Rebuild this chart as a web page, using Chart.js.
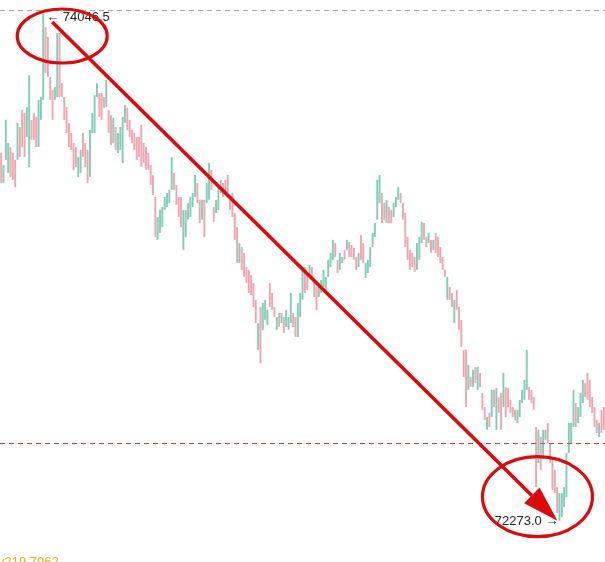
<!DOCTYPE html>
<html>
<head>
<meta charset="utf-8">
<script src="https://cdn.jsdelivr.net/npm/chart.js@4/dist/chart.umd.min.js"></script>
<style>
    html, body { margin: 0; padding: 0; background: #ffffff; }
    #wrap { position: relative; width: 605px; height: 562px; overflow: hidden; }
</style>
</head>
<body>
<div id="wrap"><canvas id="chart"></canvas></div>
<script>
// Candle opens / closes left to right
const opens = [
    73560, 73455, 73536, 73490, 73581, 73560, 73536, 73536, 73651, 73711, 73700, 73616, 73511, 73676, 73700, 73686, 73581, 73676, 73746, 74001, 73966, 73826,
    73781, 73746, 73756, 73980, 73805, 73756, 73721, 73665, 73630, 73595, 73581, 73476, 73490, 73630, 73595, 73571, 73476, 73630, 73630, 73756, 73770, 73770,
    73756, 73721, 73711, 73693, 73595, 73651, 73560, 73571, 73525, 73665, 73718, 73676, 73641, 73630, 73616, 73616, 73658, 73595, 73581, 73560, 73518, 73483,
    73406, 73256, 73280, 73301, 73361, 73371, 73385, 73431, 73490, 73448, 73406, 73406, 73221, 73266, 73326, 73336, 73371, 73406, 73455, 73396, 73326,
    73396, 73385, 73396, 73501, 73371, 73350, 73361, 73420, 73455, 73466, 73483, 73396, 73420, 73350, 73301, 73175, 73231, 73210, 73161, 73151, 73133, 73105,
    73046, 72871, 73021, 72941, 72976, 72958, 73105, 73070, 73021, 72941, 73000, 72965, 72986, 72951, 72941, 72965, 73000, 72986, 72916, 72986, 73046,
    73161, 73140, 73126, 73161, 73116, 73091, 73056, 73070, 73091, 73081, 73126, 73161, 73186, 73245, 73186, 73151, 73175, 73221, 73221, 73249, 73238, 73228,
    73196, 73161, 73273, 73245, 73123, 73140, 73161, 73231, 73266, 73326, 73385, 73420, 73385, 73315, 73371, 73361, 73336, 73371, 73396, 73420, 73385,
    73350, 73266, 73221, 73210, 73196, 73151, 73186, 73245, 73315, 73266, 73245, 73256, 73221, 73280, 73266, 73231, 73196, 73151, 73046, 73091, 73070,
    72965, 73081, 73021, 72976, 72871, 72871, 72731, 72776, 72741, 72811, 72731, 72790, 72720, 72671, 72591, 72650, 72636, 72731, 72591, 72706, 72720,
    72671, 72741, 72738, 72696, 72671, 72661, 72615, 72636, 72685, 72696, 72731, 72741, 72731, 72706, 72601, 72475, 72566, 72496, 72556, 72615, 72545, 72486,
    72451, 72391, 72273, 72286, 72321, 72356, 72510, 72545, 72601, 72685, 72615, 72636, 72685, 72755, 72790, 72766, 72706, 72671, 72626, 72566, 72661, 72671
];
const closes = [
    73455, 73518, 73676, 73595, 73476, 73466, 73441, 73665, 73546, 73581, 73546, 73721, 73833, 73606, 73606, 73581, 73746, 73756, 74046.5, 73840, 73826, 73746,
    73676, 73791, 73980, 73756, 73756, 73676, 73630, 73581, 73571, 73501, 73511, 73546, 73571, 73546, 73511, 73455, 73641, 73700, 73763, 73805, 73686, 73676,
    73718, 73816, 73630, 73588, 73683, 73571, 73630, 73651, 73686, 73728, 73641, 73616, 73595, 73571, 73536, 73546, 73511, 73525, 73501, 73501, 73448, 73413,
    73266, 73336, 73361, 73371, 73406, 73420, 73431, 73546, 73431, 73378, 73336, 73301, 73361, 73361, 73385, 73406, 73420, 73483, 73385, 73315, 73396,
    73266, 73455, 73525, 73431, 73319, 73396, 73441, 73466, 73406, 73413, 73406, 73361, 73336, 73256, 73175, 73245, 73151, 73126, 73105, 73070, 73063, 73021,
    72965, 72965, 72825, 73035, 73046, 73011, 73021, 73011, 72986, 72986, 72951, 73000, 72930, 73011, 72986, 73070, 72951, 72916, 73035, 73070, 73161,
    73070, 73081, 73168, 73116, 73056, 73011, 73091, 73116, 73151, 73126, 73186, 73210, 73256, 73196, 73140, 73210, 73196, 73186, 73256, 73196, 73196, 73186,
    73151, 73210, 73186, 73175, 73175, 73186, 73231, 73280, 73315, 73466, 73483, 73315, 73326, 73396, 73315, 73315, 73385, 73406, 73441, 73385, 73326,
    73231, 73186, 73151, 73161, 73144, 73245, 73266, 73319, 73256, 73231, 73280, 73210, 73256, 73210, 73196, 73175, 73151, 73126, 73126, 73046, 73021,
    73046, 73011, 72941, 72881, 72776, 72671, 72818, 72741, 72801, 72755, 72811, 72741, 72661, 72626, 72636, 72601, 72731, 72671, 72738, 72650, 72591,
    72790, 72636, 72671, 72650, 72636, 72626, 72661, 72696, 72731, 72766, 72871, 72696, 72685, 72661, 72391, 72591, 72451, 72591, 72591, 72545, 72475, 72381,
    72370, 72300, 72370, 72370, 72391, 72510, 72615, 72615, 72731, 72601, 72671, 72720, 72766, 72706, 72696, 72671, 72650, 72601, 72580, 72615, 72580, 72591
];

// Marked extremes and price lines
const highLabel = 74046.5;
const lowLabel = 72273.0;
const topPriceLine = 74060.5;
const markPriceLine = 72545;
const cornerText = 'v219.7962';

// Visible price window
const priceMax = 74095.5;
const priceMin = 72128.5;

const UP_COLOR = 'rgba(38, 170, 134, 0.6)';
const DOWN_COLOR = 'rgba(228, 96, 116, 0.58)';
const MARK_RED = '#dc0a0d';

const labels = opens.map((_, i) => String(i));
const bars = opens.map((o, i) => [o, closes[i]]);
const colors = opens.map((o, i) => closes[i] >= o ? UP_COLOR : DOWN_COLOR);

// index of the highest and the lowest candle
let peakIdx = 0, lowIdx = 0;
opens.forEach((o, i) => {
    if (Math.max(o, closes[i]) > Math.max(opens[peakIdx], closes[peakIdx])) peakIdx = i;
    if (Math.min(o, closes[i]) < Math.min(opens[lowIdx], closes[lowIdx])) lowIdx = i;
});

/**
 * Dashed horizontal price lines behind the candles
 */
const priceLinesPlugin = {
    id: 'priceLines',
    beforeDatasetsDraw: function(chart) {
        const ctx = chart.ctx;
        const y = chart.scales.y;
        const area = chart.chartArea;
        const lines = [
            { value: topPriceLine, color: '#a8a8a8' },
            { value: markPriceLine, color: '#b83c3c' }
        ];
        ctx.save();
        ctx.lineWidth = 1;
        ctx.setLineDash([5, 4]);
        lines.forEach(line => {
            const py = Math.round(y.getPixelForValue(line.value)) + 0.5;
            ctx.strokeStyle = line.color;
            ctx.beginPath();
            ctx.moveTo(area.left, py);
            ctx.lineTo(area.right, py);
            ctx.stroke();
        });
        ctx.restore();
    }
};

/**
 * Hand drawn style marks: circles round the extremes, arrow between them, value labels
 */
const marksPlugin = {
    id: 'marks',
    afterDraw: function(chart) {
        const ctx = chart.ctx;
        const xs = chart.scales.x;
        const ys = chart.scales.y;
        const hx = xs.getPixelForValue(peakIdx);
        const hy = ys.getPixelForValue(highLabel);
        const lx = xs.getPixelForValue(lowIdx);
        const ly = ys.getPixelForValue(lowLabel);

        ctx.save();
        // labels
        ctx.font = '13px "Liberation Sans", Arial, sans-serif';
        ctx.fillStyle = '#222';
        ctx.textBaseline = 'middle';
        ctx.textAlign = 'left';
        ctx.fillText('\u2190 ' + highLabel.toFixed(1), hx + 3, hy + 3);
        ctx.textAlign = 'right';
        ctx.fillText(lowLabel.toFixed(1) + ' \u2192', lx - 1, ly + 1);

        // circles
        ctx.strokeStyle = MARK_RED;
        ctx.lineWidth = 3.2;
        ctx.beginPath();
        ctx.ellipse(hx + 19, hy + 22, 45, 27, 0, 0, Math.PI * 2);
        ctx.stroke();
        ctx.beginPath();
        ctx.ellipse(lx - 22, ly - 24, 55, 40, 0, 0, Math.PI * 2);
        ctx.stroke();

        // arrow
        const sx = hx + 9, sy = hy + 8;
        const tx = lx - 2, ty = ly;
        const ang = Math.atan2(ty - sy, tx - sx);
        const headLen = 36, headHalf = 11;
        const bx = tx - Math.cos(ang) * headLen;
        const by = ty - Math.sin(ang) * headLen;
        ctx.lineWidth = 3.6;
        ctx.beginPath();
        ctx.moveTo(sx, sy);
        ctx.lineTo(bx, by);
        ctx.stroke();
        ctx.fillStyle = MARK_RED;
        ctx.beginPath();
        ctx.moveTo(tx, ty);
        ctx.lineTo(bx - Math.sin(ang) * headHalf, by + Math.cos(ang) * headHalf);
        ctx.lineTo(bx + Math.sin(ang) * headHalf, by - Math.cos(ang) * headHalf);
        ctx.closePath();
        ctx.fill();

        // cut off value at the bottom left
        ctx.font = '13px "Liberation Sans", Arial, sans-serif';
        ctx.fillStyle = '#e5b12a';
        ctx.textAlign = 'left';
        ctx.textBaseline = 'alphabetic';
        ctx.fillText(cornerText, -2, chart.height + 4);
        ctx.restore();
    }
};

new Chart(document.getElementById('chart').getContext('2d'), {
    type: 'bar',
    data: {
        labels: labels,
        datasets: [{
            data: bars,
            backgroundColor: colors,
            borderWidth: 0,
            borderSkipped: false,
            categoryPercentage: 1.0,
            barPercentage: 0.8
        }]
    },
    options: {
        responsive: true,
        maintainAspectRatio: false,
        animation: false,
        layout: { padding: 0 },
        plugins: {
            legend: { display: false },
            tooltip: { enabled: false }
        },
        scales: {
            x: { display: false, offset: true },
            y: { display: false, min: priceMin, max: priceMax }
        }
    },
    plugins: [priceLinesPlugin, marksPlugin]
});
</script>
</body>
</html>
